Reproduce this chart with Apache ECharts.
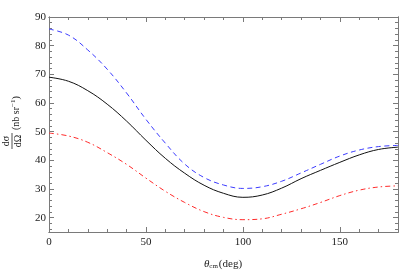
<!DOCTYPE html>
<html><head><meta charset="utf-8">
<script src="https://cdn.jsdelivr.net/npm/echarts@6/dist/echarts.min.js"></script>
<style>html,body{margin:0;padding:0;background:#fff}#c{width:399px;height:275px}</style>
</head><body><div id="c"></div>
<script>
var angles = [0,10,20,30,40,50,60,70,80,90,100,110,120,130,140,150,160,170,180];
var solidBlack = [69,67.6,64.3,59.6,53.7,47,40.7,35.5,31.3,28.5,27.1,27.9,30.3,33.6,36.5,39.3,41.9,43.8,44.6];
var dashedBlue = [85.8,83.7,78.5,71.8,63.5,54.3,46,38.7,34,31.4,30.2,30.8,32.7,35.6,38.6,41.5,43.6,44.8,45.2];
var dashDotRed = [49.5,48.5,46.3,42.7,38.6,33.8,29.2,25.3,22.1,20.1,19.3,19.6,21.2,23.1,25.3,27.7,29.6,30.7,31.1];
var xMajor = [0,50,100,150];
var xMinor = [10,20,30,40,60,70,80,90,110,120,130,140,160,170];
var yMajor = [20,30,40,50,60,70,80,90];
var yMinor = [16,18,22,24,26,28,32,34,36,38,42,44,46,48,52,54,56,58,62,64,66,68,72,74,76,78,82,84,86,88];

function pairs(v){ return angles.map(function(a,i){ return [a, v[i]]; }); }
var frame = '#7a7a7a';
var font = '"Liberation Serif", "DejaVu Serif", serif';
function xa(pos, vals, len, labels){
  return {type:'value', position:pos, min:0, max:180, gridIndex:0,
    axisLine:{show:true, onZero:false, lineStyle:{color:frame, width:1}},
    splitLine:{show:false},
    axisTick:{show:true, inside:true, length:len, customValues:vals, lineStyle:{color:frame}},
    axisLabel:{show:labels, customValues:xMajor, margin:5, color:'#222', fontFamily:font, fontSize:11}};
}
function ya(pos, vals, len, labels){
  return {type:'value', position:pos, min:15, max:90, gridIndex:0,
    axisLine:{show:true, onZero:false, lineStyle:{color:frame, width:1}},
    splitLine:{show:false},
    axisTick:{show:true, inside:true, length:len, customValues:vals, lineStyle:{color:frame}},
    axisLabel:{show:labels, customValues:yMajor, margin:3, color:'#222', fontFamily:font, fontSize:11}};
}
var chart = echarts.init(document.getElementById('c'), null, {renderer:'canvas'});
chart.setOption({
  animation:false,
  grid:{left:49, right:1, top:17, bottom:43, containLabel:false},
  xAxis:[xa('bottom', xMajor, 5, true), xa('bottom', xMinor, 3, false), xa('top', xMajor, 5, false), xa('top', xMinor, 3, false)],
  yAxis:[ya('left', yMajor, 5, true), ya('left', yMinor, 3, false), ya('right', yMajor, 5, false), ya('right', yMinor, 3, false)],
  series:[
    {type:'line', data:pairs(dashedBlue), smooth:0.4, symbol:'none', lineStyle:{color:'#3b3bff', width:1, type:[5,3.5]}},
    {type:'line', data:pairs(solidBlack), smooth:0.4, symbol:'none', lineStyle:{color:'#111', width:1}},
    {type:'line', data:pairs(dashDotRed), smooth:0.4, symbol:'none', lineStyle:{color:'#ff2a2a', width:1, type:[5,3,1.5,3]}}
  ],
  graphic:[
    {type:'group', x:12, y:141, rotation:Math.PI/2, children:[
      {type:'text', x:0, y:-1, style:{text:'d\u03c3', font:'10px '+font, fill:'#222', align:'center', verticalAlign:'bottom'}},
      {type:'line', shape:{x1:-8, y1:0, x2:8, y2:0}, style:{stroke:'#222', lineWidth:0.8}},
      {type:'text', x:0, y:1, style:{text:'d\u03a9', font:'10px '+font, fill:'#222', align:'center', verticalAlign:'top'}},
      {type:'text', x:11, y:4, style:{text:'(nb sr{s|\u22121})', font:'10px '+font, fill:'#222', align:'left', verticalAlign:'middle',
        rich:{s:{fontSize:7, fontFamily:font, verticalAlign:'top', padding:[0,0,6,0]}}}}
    ]},
    {type:'text', x:223, y:264, style:{text:'{t|\u03b8}{s|cm}{n|(deg)}', align:'center', verticalAlign:'middle',
      rich:{t:{fontSize:11, fontFamily:font, fontStyle:'italic', fill:'#222'},
            s:{fontSize:7, fontFamily:font, fill:'#222', padding:[5,1,0,0]},
            n:{fontSize:11, fontFamily:font, fill:'#222'}}}}
  ]
});
</script></body></html>
